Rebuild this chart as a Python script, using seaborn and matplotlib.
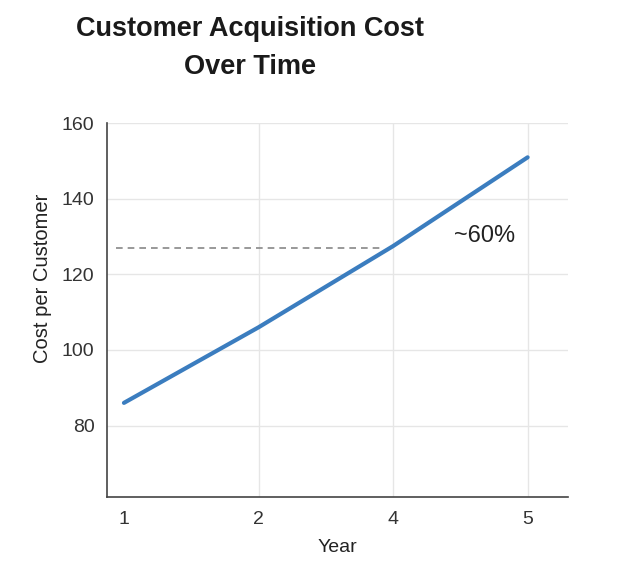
import pandas as pd
import matplotlib
matplotlib.use("Agg")
import matplotlib.pyplot as plt
import seaborn as sns

# values
years = ["1", "2", "4", "5"]
cost = [86, 106, 127.5, 151]
marker_level = 127
marker_text = "~60%"

df = pd.DataFrame({"Year": years, "Cost": cost})

sns.set_style("white")
plt.rcParams["font.family"] = ["Liberation Sans", "DejaVu Sans"]

fig = plt.figure(figsize=(6.25, 5.67), dpi=100)
ax = fig.add_axes([0.1712, 0.1229, 0.7376, 0.6596])

sns.lineplot(data=df, x="Year", y="Cost", color="#3b7dbf", linewidth=3,
             sort=False, ax=ax)

# dashed reference line up to year 4
ax.hlines(marker_level, -0.06, years.index("4") - 0.1, colors="#888888",
          linestyles=(0, (4, 3)), linewidth=1.2)
ax.text(2.68, 130.2, marker_text, fontsize=17, color="#222222",
        ha="center", va="center")

ax.set_xlim(-0.126, 3.3)
ax.set_ylim(61, 160)
ax.set_yticks([80, 100, 120, 140, 160])

ax.grid(True, color="#e6e6e6", linewidth=1)
ax.get_xgridlines()[0].set_visible(False)
ax.set_axisbelow(True)

for s in ["top", "right"]:
    ax.spines[s].set_visible(False)
for s in ["left", "bottom"]:
    ax.spines[s].set_color("#444444")
    ax.spines[s].set_linewidth(1.2)

ax.tick_params(axis="both", length=0, labelsize=14, colors="#333333")
ax.tick_params(axis="y", pad=9)
ax.tick_params(axis="x", pad=10)
ax.set_xlabel("Year", fontsize=14, color="#222222", labelpad=8)
ax.set_ylabel("Cost per Customer", fontsize=14.5, color="#222222")
ax.yaxis.set_label_coords(-0.12, 0.585)

fig.text(0.4, 0.972, "Customer Acquisition Cost\nOver Time", ha="center",
         va="top", fontsize=19.5, fontweight="bold", color="#1a1a1a",
         linespacing=1.62)

plt.savefig("out.png", dpi=100, facecolor="white")
plt.close()
